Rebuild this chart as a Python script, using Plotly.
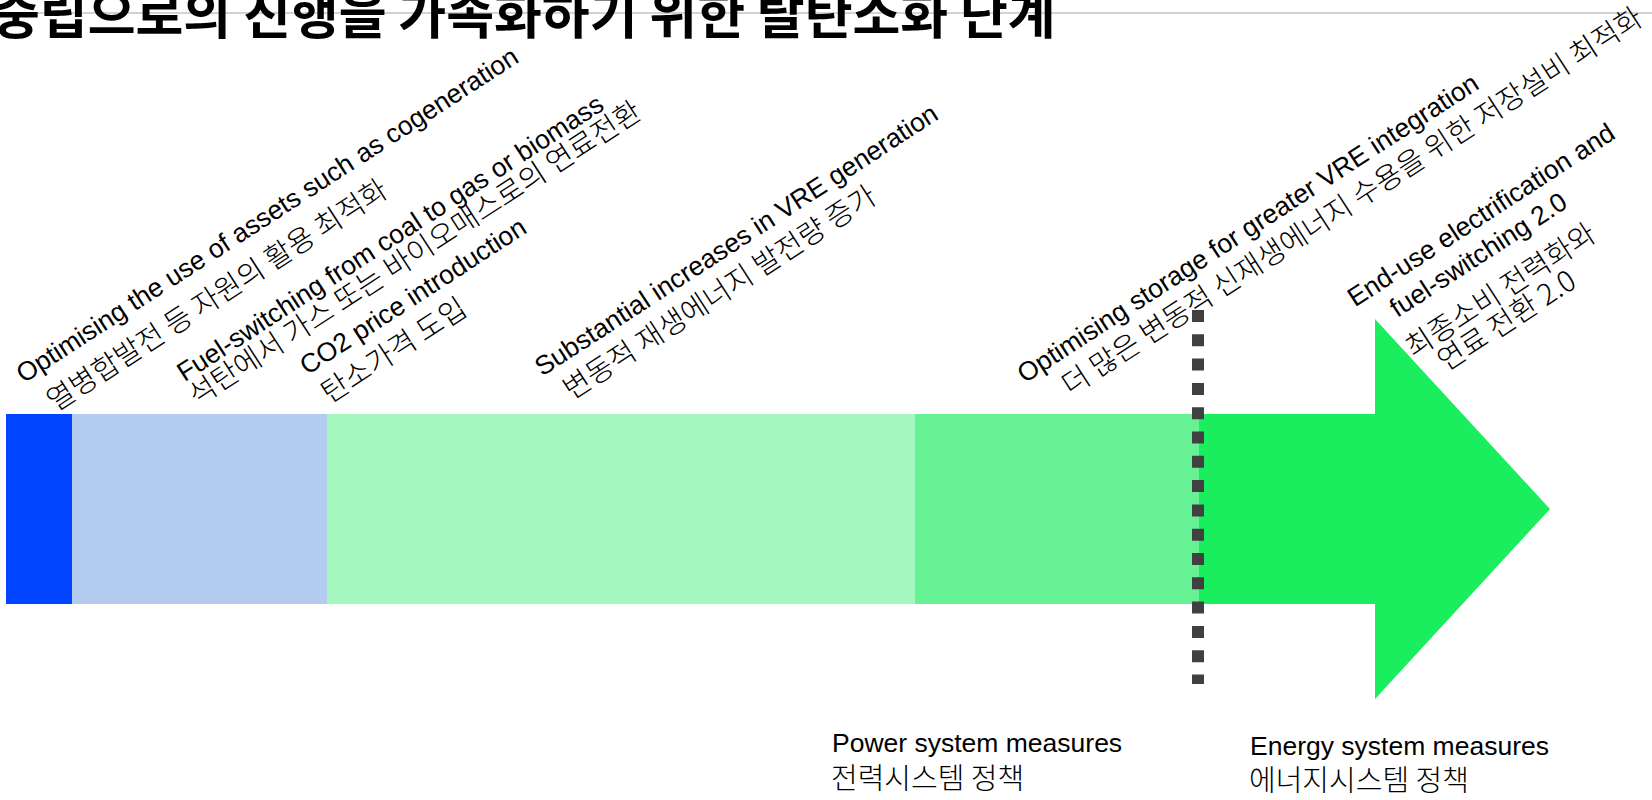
import plotly.graph_objects as go

# ---------------- data ----------------
title_text = "중립으로의 진행을 가속화하기 위한 탈탄소화 단계"

stage_names = ["Cogeneration", "Fuel-switching / CO2 price", "VRE increase",
               "Storage", "End-use electrification"]
stage_lengths = [66, 255, 588, 284, 176]
arrow_head_length = 175
stage_colors = ["#0044FF", "#B2CBEE", "#A5F7C0", "#66F294", "#1AEE5E"]

label_lines_en_ko = [
    "Optimising the use of assets such as cogeneration",
    "열병합발전 등 자원의 활용 최적화",
    "Fuel-switching from coal to gas or biomass",
    "석탄에서 가스 또는 바이오매스로의 연료전환",
    "CO2 price introduction",
    "탄소가격 도입",
    "Substantial increases in VRE generation",
    "변동적 재생에너지 발전량 증가",
    "Optimising storage for greater VRE integration",
    "더 많은 변동적 신재생에너지 수용을 위한 저장설비 최적화",
    "End-use electrification and",
    "fuel-switching 2.0",
    "최종소비 전력화와",
    "연료 전환 2.0",
]

measure_labels = [
    ["Power system measures", "전력시스템 정책"],
    ["Energy system measures", "에너지시스템 정책"],
]

# ---------------- layout constants ----------------
W, H = 1652, 800
x0 = 6
bar_center = 509
bar_height = 190
label_pos = [(267, 215), (215, 293), (390, 238), (413, 251), (413, 296),
             (392, 348), (736, 240), (718, 290), (1248, 228), (1350, 199),
             (1481, 215), (1478, 255), (1499, 288), (1505, 318)]
label_angle = -33
measure_pos = [(830, 743, 776), (1248, 746, 778)]
divider_index = 4  # dotted line at start of the last stage

EN_FONT = "Liberation Sans, Arial, sans-serif"
KO_FONT = "Noto Sans CJK KR, sans-serif"
EN_SIZE = 26.5
KO_SIZE = 29

starts = []
acc = x0
for L in stage_lengths:
    starts.append(acc)
    acc += L
end_x = acc

fig = go.Figure()
fig.add_trace(go.Bar(
    y=[bar_center] * len(stage_lengths), x=stage_lengths, base=starts,
    orientation="h", width=bar_height, marker=dict(color=stage_colors, line=dict(width=0)),
    name="stages", text=stage_names, textposition="none", hoverinfo="skip",
    showlegend=False,
))
# arrow head
fig.add_trace(go.Scatter(
    x=[end_x, end_x + arrow_head_length, end_x, end_x],
    y=[bar_center - bar_height, bar_center, bar_center + bar_height, bar_center - bar_height],
    fill="toself", fillcolor=stage_colors[-1], mode="lines",
    line=dict(width=0, color=stage_colors[-1]), hoverinfo="skip", showlegend=False,
))
# dotted divider
div_x = starts[divider_index] - 1
fig.add_trace(go.Scatter(
    x=[div_x, div_x], y=[310, 684], mode="lines",
    line=dict(color="#404040", width=12, dash="12px,12.3px"),
    hoverinfo="skip", showlegend=False,
))


def is_korean(txt):
    return any('\uac00' <= ch <= '\ud7a3' for ch in txt)


annotations = []
for txt, (px, py) in zip(label_lines_en_ko, label_pos):
    ko = is_korean(txt)
    annotations.append(dict(
        x=px, y=py, xref="x", yref="y", text=txt, showarrow=False,
        textangle=label_angle, xanchor="center", yanchor="middle",
        font=dict(family=KO_FONT if ko else EN_FONT, size=KO_SIZE if ko else EN_SIZE,
                  color="#000000", weight=300 if ko else 400),
    ))
for (en, ko), (px, py_en, py_ko) in zip(measure_labels, measure_pos):
    annotations.append(dict(x=px, y=py_en, xref="x", yref="y", text=en, showarrow=False,
                            xanchor="left", yanchor="middle",
                            font=dict(family=EN_FONT, size=EN_SIZE, color="#000000")))
    annotations.append(dict(x=px - 1, y=py_ko, xref="x", yref="y", text=ko, showarrow=False,
                            xanchor="left", yanchor="middle",
                            font=dict(family=KO_FONT, size=KO_SIZE, color="#000000",
                                      weight=300)))
annotations.append(dict(
    x=1058, y=11.5, xref="x", yref="y", text="<b>" + title_text + "</b>", showarrow=False,
    xanchor="right", yanchor="middle",
    font=dict(family="Noto Sans CJK KR, sans-serif", size=52, color="#000000"),
))

fig.update_layout(
    width=W, height=H, margin=dict(l=0, r=0, t=0, b=0),
    paper_bgcolor="white", plot_bgcolor="white", barmode="overlay",
    xaxis=dict(range=[0, W], visible=False, fixedrange=True),
    yaxis=dict(range=[H, 0], visible=False, fixedrange=True),
    shapes=[dict(type="line", xref="paper", yref="y", x0=0, x1=1, y0=13, y1=13,
                 line=dict(color="#D3D3D3", width=2), layer="below")],
    annotations=annotations,
)

fig.write_html("out.html")
